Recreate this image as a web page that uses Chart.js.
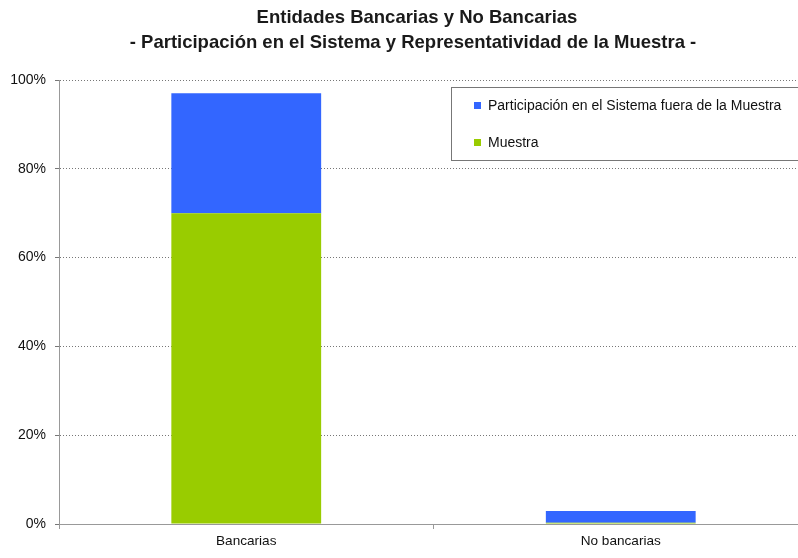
<!DOCTYPE html>
<html>
<head>
<meta charset="utf-8">
<script src="https://cdn.jsdelivr.net/npm/chart.js@4"></script>
<style>
html,body{margin:0;padding:0;background:#fff;overflow:hidden;}
#wrap{width:798px;height:558px;overflow:hidden;position:relative;}
#box{width:808px;height:558px;position:absolute;left:0;top:0;}
</style>
</head>
<body>
<div id="wrap"><div id="box"><canvas id="c"></canvas></div></div>
<script>
const categories = ['Bancarias', 'No bancarias'];
const muestra = [70, 0.3];
const fueraMuestra = [27, 2.6];
const titleLines = ['Entidades Bancarias y No Bancarias', '- Participación en el Sistema y Representatividad de la Muestra -'];
const seriesNames = ['Muestra', 'Participación en el Sistema fuera de la Muestra'];
const seriesColors = ['#99CC00', '#3366FF'];
const yTicks = [0, 20, 40, 60, 80, 100];

const FONT = '"Liberation Sans", Arial, sans-serif';

const titleDraw = {
  id: 'titleDraw',
  afterDraw(chart) {
    const ctx = chart.ctx;
    ctx.save();
    ctx.font = 'bold 18.5px ' + FONT;
    ctx.fillStyle = '#1a1a1a';
    ctx.textAlign = 'center';
    ctx.textBaseline = 'middle';
    ctx.fillText(titleLines[0], 417, 18);
    ctx.fillText(titleLines[1], 413, 43);
    ctx.restore();
  }
};

const legendBox = {
  id: 'legendBox',
  afterDatasetsDraw(chart) {
    const ctx = chart.ctx;
    const ca = chart.chartArea;
    const x0 = 451.5, y0 = 87.5, x1 = ca.right + 5, y1 = 160.5;
    ctx.save();
    ctx.fillStyle = '#fff';
    ctx.fillRect(x0, y0, x1 - x0, y1 - y0);
    ctx.strokeStyle = '#777';
    ctx.lineWidth = 1;
    ctx.strokeRect(x0, y0, x1 - x0, y1 - y0);
    const order = [1, 0];
    const rowsY = [105.5, 142.5];
    ctx.font = '14px ' + FONT;
    ctx.textBaseline = 'middle';
    ctx.textAlign = 'left';
    order.forEach((di, i) => {
      const ds = chart.data.datasets[di];
      ctx.fillStyle = ds.backgroundColor;
      ctx.fillRect(474, rowsY[i] - 3.5, 7, 7);
      ctx.fillStyle = '#111';
      ctx.fillText(ds.label, 488, rowsY[i] + 0.5);
    });
    ctx.restore();
  }
};

new Chart(document.getElementById('c'), {
  type: 'bar',
  data: {
    labels: categories,
    datasets: [
      { label: seriesNames[0], data: muestra, backgroundColor: seriesColors[0], barPercentage: 0.4, categoryPercentage: 1 },
      { label: seriesNames[1], data: fueraMuestra, backgroundColor: seriesColors[1], barPercentage: 0.4, categoryPercentage: 1 }
    ]
  },
  options: {
    responsive: true,
    maintainAspectRatio: false,
    animation: false,
    layout: { padding: { left: 0, right: 0, top: 80, bottom: 0 } },
    plugins: {
      legend: { display: false },
      tooltip: { enabled: false },
      title: { display: false }
    },
    scales: {
      x: {
        stacked: true,
        offset: true,
        afterFit(s) { s.height = 34; },
        grid: { display: true, offset: true, drawOnChartArea: false, drawTicks: true, tickLength: 5, color: '#999' },
        border: { display: true, color: '#999', width: 1 },
        ticks: { color: '#111', font: { family: FONT, size: 13.6 }, padding: 4 }
      },
      y: {
        stacked: true,
        min: 0,
        max: 100,
        afterFit(s) { s.width = 59; },
        afterBuildTicks(s) { s.ticks = yTicks.map(v => ({ value: v })); },
        grid: {
          color: (c) => c.tick && c.tick.value === 0 ? 'rgba(0,0,0,0)' : '#777',
          tickLength: 4,
          tickColor: '#777',
          tickBorderDash: []
        },
        border: { display: true, color: '#999', width: 1, dash: [1, 2] },
        ticks: {
          color: '#111',
          font: { family: FONT, size: 14 },
          padding: 9,
          callback: (v) => v + '%'
        }
      }
    }
  },
  plugins: [legendBox, titleDraw]
});
</script>
</body>
</html>
